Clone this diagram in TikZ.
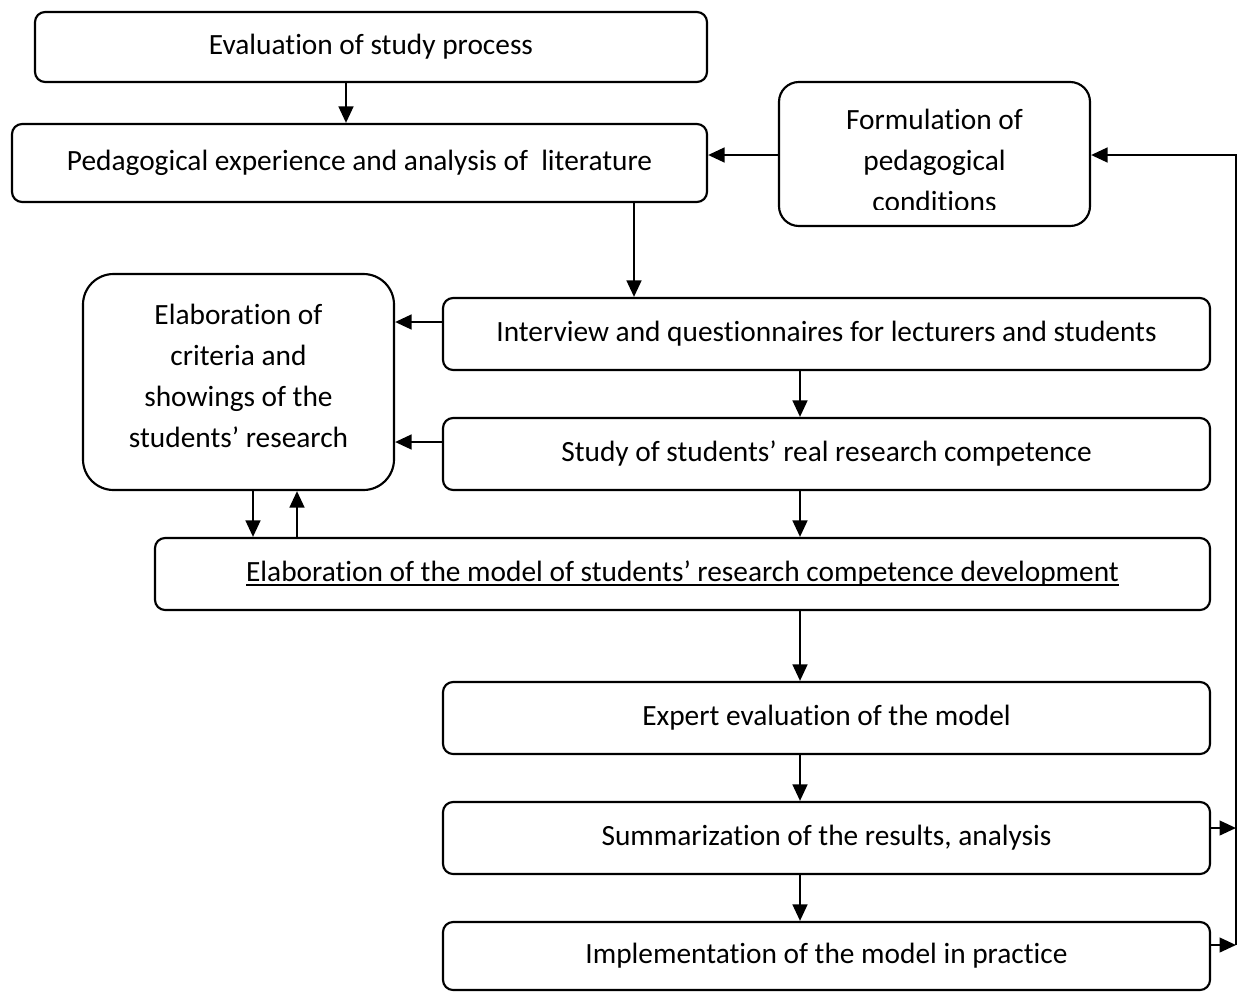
\documentclass[tikz,border=0pt]{standalone}
\usepackage{fontspec}
\setmainfont{Carlito}[Ligatures=NoCommon]
\usetikzlibrary{arrows.meta,positioning}
\tikzset{
  box/.style={draw, rounded corners=3.3pt, line width=0.7pt, align=center,
              inner sep=0pt, font=\fontsize{9.6}{13.4}\selectfont},
  roundbox/.style={box, rounded corners=10pt},
  arrow/.style={-{Triangle[length=5.4pt,width=4.8pt]}, line width=0.8pt}
}
\newcommand\undertext[1]{\setbox0\hbox{#1}\rlap{\rule[-1.4pt]{\wd0}{0.75pt}}\box0}

\begin{document}
\begin{tikzpicture}[x=0.327pt, y=-0.327pt]
  \useasboundingbox (0,0) rectangle (1240,992);

  % left column
  \node[box, minimum width=672*0.327pt, minimum height=70*0.327pt] (eval) at (371,47) {Evaluation of study process};
  \node[box, minimum width=695*0.327pt, minimum height=78*0.327pt] (ped) at (359.5,163) {Pedagogical experience and analysis of~ literature};
  \node[box, rounded corners=6.5pt, minimum width=311*0.327pt, minimum height=144*0.327pt] (form) at (934.5,154) {};
  \begin{scope}
    \clip (779,82) rectangle (1090,209);
    \node[box, draw=none] at (934.5,160) {Formulation of\\pedagogical\\conditions};
  \end{scope}
  \node[roundbox, minimum width=311*0.327pt, minimum height=216*0.327pt] (crit) at (238.5,382) {};
  \node[box, draw=none] at (238.5,376) {Elaboration of\\criteria and\\showings of the\\students’ research};

  % right column
  \node[box, minimum width=767*0.327pt, minimum height=72*0.327pt] (intv) at (826.5,334) {Interview and questionnaires for lecturers and students};
  \node[box, minimum width=767*0.327pt, minimum height=72*0.327pt] (study) at (826.5,454) {Study of students’ real research competence};
  \node[box, minimum width=1055*0.327pt, minimum height=72*0.327pt] (model) at (682.5,574) {\undertext{Elaboration of the model of students’ research competence development}};
  \node[box, minimum width=767*0.327pt, minimum height=72*0.327pt] (expert) at (826.5,718) {Expert evaluation of the model};
  \node[box, minimum width=767*0.327pt, minimum height=72*0.327pt] (summ) at (826.5,838) {Summarization of the results, analysis};
  \node[box, minimum width=767*0.327pt, minimum height=68*0.327pt] (impl) at (826.5,956) {Implementation of the model in practice};

  % feedback line
  \coordinate (fb1) at (1236,828);
  \coordinate (fb2) at (1236,945);
  \coordinate (fbtop) at (1236,155);

  \draw[arrow] (eval.south -| 346,0) -- (ped.north -| 346,0);
  \draw[arrow] (form.west |- 0,155) -- (ped.east |- 0,155);
  \draw[arrow] (ped.south -| 634,0) -- (intv.north -| 634,0);
  \draw[arrow] (intv.west |- 0,322) -- (crit.east |- 0,322);
  \draw[arrow] (study.west |- 0,442) -- (crit.east |- 0,442);
  \draw[arrow] (intv.south -| 800,0) -- (study.north -| 800,0);
  \draw[arrow] (study.south -| 800,0) -- (model.north -| 800,0);
  \draw[arrow] (crit.south -| 253,0) -- (model.north -| 253,0);
  \draw[arrow] (model.north -| 297,0) -- (crit.south -| 297,0);
  \draw[arrow] (model.south -| 800,0) -- (expert.north -| 800,0);
  \draw[arrow] (expert.south -| 800,0) -- (summ.north -| 800,0);
  \draw[arrow] (summ.south -| 800,0) -- (impl.north -| 800,0);
  \draw[arrow] (summ.east |- fb1) -- (fb1);
  \draw[arrow] (impl.east |- fb2) -- (fb2);
  \draw[arrow] (fb2) -- (fbtop) -- (form.east |- fbtop);
\end{tikzpicture}
\end{document}
